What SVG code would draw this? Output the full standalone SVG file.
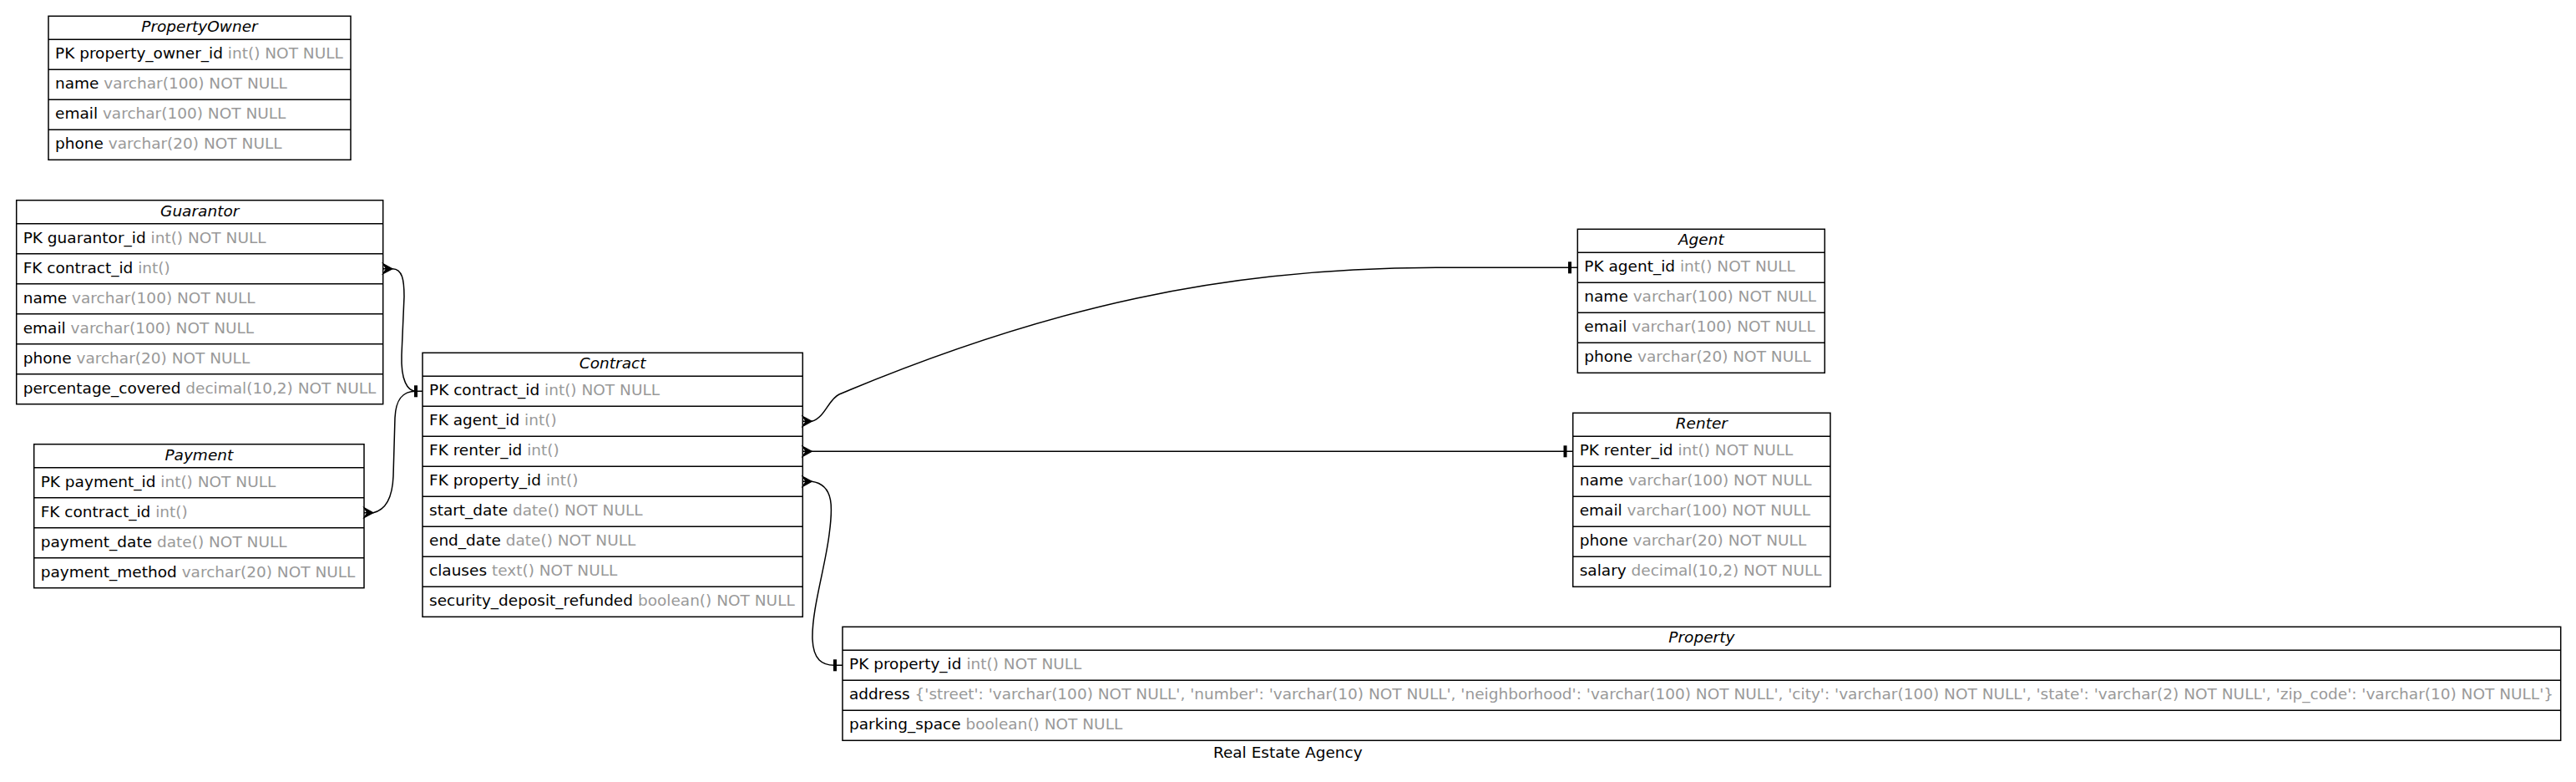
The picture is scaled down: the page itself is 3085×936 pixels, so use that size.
<svg xmlns="http://www.w3.org/2000/svg" width="3085" height="936" viewBox="0 0 3085 936">
<style>
text{font-family:"DejaVu Sans","Liberation Sans",sans-serif;font-size:18.5px;fill:#000}
.h{font-style:italic;text-anchor:middle}
.g{fill:#999}
.box{fill:#fff;stroke:#000;stroke-width:1.5}
.sep{stroke:#000;stroke-width:1.5}
.edge{fill:none;stroke:#000;stroke-width:1.5}
.crow{fill:#000;stroke:#000;stroke-width:1.2;stroke-linejoin:miter}
.tee{fill:#000}
</style>
<rect width="3085" height="936" fill="#fff"/>

<g id="PropertyOwner">
<rect class="box" x="58" y="19.3" width="362" height="172"/>
<path class="sep" d="M58,47.3H420M58,83.3H420M58,119.3H420M58,155.3H420"/>
<text class="h" x="239" y="38.3">PropertyOwner</text>
<text x="66" y="70.3">PK property_owner_id <tspan class="g">int() NOT NULL</tspan></text>
<text x="66" y="106.3">name <tspan class="g">varchar(100) NOT NULL</tspan></text>
<text x="66" y="142.3">email <tspan class="g">varchar(100) NOT NULL</tspan></text>
<text x="66" y="178.3">phone <tspan class="g">varchar(20) NOT NULL</tspan></text>
</g>

<g id="Guarantor">
<rect class="box" x="19.7" y="239.7" width="439" height="244"/>
<path class="sep" d="M19.7,267.7H458.7M19.7,303.7H458.7M19.7,339.7H458.7M19.7,375.7H458.7M19.7,411.7H458.7M19.7,447.7H458.7"/>
<text class="h" x="239.2" y="258.7">Guarantor</text>
<text x="27.7" y="290.7">PK guarantor_id <tspan class="g">int() NOT NULL</tspan></text>
<text x="27.7" y="326.7">FK contract_id <tspan class="g">int()</tspan></text>
<text x="27.7" y="362.7">name <tspan class="g">varchar(100) NOT NULL</tspan></text>
<text x="27.7" y="398.7">email <tspan class="g">varchar(100) NOT NULL</tspan></text>
<text x="27.7" y="434.7">phone <tspan class="g">varchar(20) NOT NULL</tspan></text>
<text x="27.7" y="470.7">percentage_covered <tspan class="g">decimal(10,2) NOT NULL</tspan></text>
</g>

<g id="Payment">
<rect class="box" x="40.7" y="531.7" width="395.3" height="172"/>
<path class="sep" d="M40.7,559.7H436M40.7,595.7H436M40.7,631.7H436M40.7,667.7H436"/>
<text class="h" x="238.35" y="550.7">Payment</text>
<text x="48.7" y="582.7">PK payment_id <tspan class="g">int() NOT NULL</tspan></text>
<text x="48.7" y="618.7">FK contract_id <tspan class="g">int()</tspan></text>
<text x="48.7" y="654.7">payment_date <tspan class="g">date() NOT NULL</tspan></text>
<text x="48.7" y="690.7">payment_method <tspan class="g">varchar(20) NOT NULL</tspan></text>
</g>

<g id="Contract">
<rect class="box" x="506" y="422.3" width="455.3" height="316"/>
<path class="sep" d="M506,450.3H961.3M506,486.3H961.3M506,522.3H961.3M506,558.3H961.3M506,594.3H961.3M506,630.3H961.3M506,666.3H961.3M506,702.3H961.3"/>
<text class="h" x="733.65" y="441.3">Contract</text>
<text x="514" y="473.3">PK contract_id <tspan class="g">int() NOT NULL</tspan></text>
<text x="514" y="509.3">FK agent_id <tspan class="g">int()</tspan></text>
<text x="514" y="545.3">FK renter_id <tspan class="g">int()</tspan></text>
<text x="514" y="581.3">FK property_id <tspan class="g">int()</tspan></text>
<text x="514" y="617.3">start_date <tspan class="g">date() NOT NULL</tspan></text>
<text x="514" y="653.3">end_date <tspan class="g">date() NOT NULL</tspan></text>
<text x="514" y="689.3">clauses <tspan class="g">text() NOT NULL</tspan></text>
<text x="514" y="725.3">security_deposit_refunded <tspan class="g">boolean() NOT NULL</tspan></text>
</g>

<g id="Agent">
<rect class="box" x="1889.3" y="274.3" width="296" height="172"/>
<path class="sep" d="M1889.3,302.3H2185.3M1889.3,338.3H2185.3M1889.3,374.3H2185.3M1889.3,410.3H2185.3"/>
<text class="h" x="2037.3" y="293.3">Agent</text>
<text x="1897.3" y="325.3">PK agent_id <tspan class="g">int() NOT NULL</tspan></text>
<text x="1897.3" y="361.3">name <tspan class="g">varchar(100) NOT NULL</tspan></text>
<text x="1897.3" y="397.3">email <tspan class="g">varchar(100) NOT NULL</tspan></text>
<text x="1897.3" y="433.3">phone <tspan class="g">varchar(20) NOT NULL</tspan></text>
</g>

<g id="Renter">
<rect class="box" x="1883.7" y="494.3" width="308.3" height="208"/>
<path class="sep" d="M1883.7,522.3H2192M1883.7,558.3H2192M1883.7,594.3H2192M1883.7,630.3H2192M1883.7,666.3H2192"/>
<text class="h" x="2037.85" y="513.3">Renter</text>
<text x="1891.7" y="545.3">PK renter_id <tspan class="g">int() NOT NULL</tspan></text>
<text x="1891.7" y="581.3">name <tspan class="g">varchar(100) NOT NULL</tspan></text>
<text x="1891.7" y="617.3">email <tspan class="g">varchar(100) NOT NULL</tspan></text>
<text x="1891.7" y="653.3">phone <tspan class="g">varchar(20) NOT NULL</tspan></text>
<text x="1891.7" y="689.3">salary <tspan class="g">decimal(10,2) NOT NULL</tspan></text>
</g>

<g id="Property">
<rect class="box" x="1009" y="750.3" width="2057.7" height="136"/>
<path class="sep" d="M1009,778.3H3066.7M1009,814.3H3066.7M1009,850.3H3066.7"/>
<text class="h" x="2037.85" y="769.3">Property</text>
<text x="1017" y="801.3">PK property_id <tspan class="g">int() NOT NULL</tspan></text>
<text x="1017" y="837.3">address <tspan class="g">{'street': 'varchar(100) NOT NULL', 'number': 'varchar(10) NOT NULL', 'neighborhood': 'varchar(100) NOT NULL', 'city': 'varchar(100) NOT NULL', 'state': 'varchar(2) NOT NULL', 'zip_code': 'varchar(10) NOT NULL'}</tspan></text>
<text x="1017" y="873.3">parking_space <tspan class="g">boolean() NOT NULL</tspan></text>
</g>

<g id="connectors">
<path class="edge" d="M458.7,321.7H470C482,322 484,335 484,355L481,425C480,455 488,468.3 498,468.3H506"/>
<path class="crow" d="M470,321.7L458.7,315.7L462.5,321.7L458.7,327.7Z"/>
<rect class="tee" x="496" y="461.3" width="4" height="14"/>

<path class="edge" d="M436,613.7H447C463,610 470,595 471,570L473,500C474,478 482,468.3 498,468.3"/>
<path class="crow" d="M447,613.7L436,607.7L439.8,613.7L436,619.7Z"/>

<path class="edge" d="M961.3,504.3H972C988,500 992,478 1005,472C1255,367 1470,320.3 1720,320.3H1889.3"/>
<path class="crow" d="M972.3,504.3L961.3,498.3L965.1,504.3L961.3,510.3Z"/>
<rect class="tee" x="1878" y="313.3" width="4" height="14"/>

<path class="edge" d="M961.3,540.3H1883.7"/>
<path class="crow" d="M972.3,540.3L961.3,534.3L965.1,540.3L961.3,546.3Z"/>
<rect class="tee" x="1872.5" y="533.3" width="4" height="14"/>

<path class="edge" d="M961.3,576.3H972C1000,580 997,610 993,640C988,680 972,730 973,765C974,790 985,796.3 999,796.3H1009"/>
<path class="crow" d="M972.3,576.3L961.3,570.3L965.1,576.3L961.3,582.3Z"/>
<rect class="tee" x="998" y="789.3" width="4" height="14"/>
</g>

<text x="1542.3" y="906.5" style="text-anchor:middle">Real Estate Agency</text>
</svg>
